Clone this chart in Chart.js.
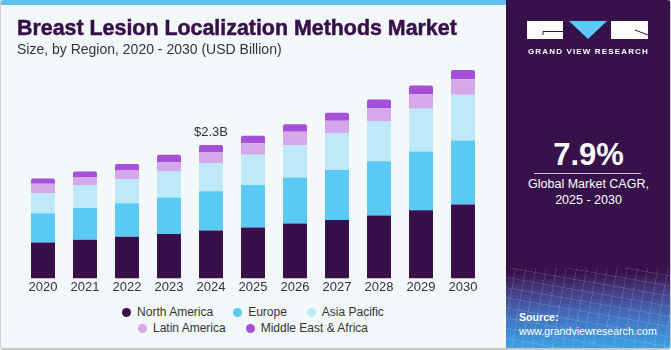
<!DOCTYPE html>
<html>
<head>
<meta charset="utf-8">
<script src="https://cdn.jsdelivr.net/npm/chart.js@4"></script>
<style>
  html, body { margin: 0; padding: 0; }
  body {
    width: 671px; height: 350px; position: relative; overflow: hidden;
    background: #ffffff; font-family: "Liberation Sans", Arial, sans-serif;
  }
  .left-bg {
    position: absolute; left: 0; top: 0; width: 506px; height: 348px;
    background: #f3f8fb;
  }
  .topbar {
    position: absolute; left: 0; top: 0; width: 506px; height: 5px;
    background: #5ac2ee; border-top-left-radius: 4px;
  }
  .frame {
    position: absolute; left: 0; top: 0; width: 671px; height: 350px;
    box-sizing: border-box; border: 1px solid #cfcfcf; border-bottom: 2px solid #c8c8c8;
    border-top: none; border-radius: 0 0 4px 4px; pointer-events: none;
  }
  .title {
    position: absolute; left: 17px; top: 17.6px; white-space: nowrap;
    font-size: 21.4px; line-height: 21.4px; font-weight: bold; color: #37104a;
    -webkit-text-stroke: 0.5px #37104a;
  }
  .subtitle {
    position: absolute; left: 17px; top: 41.5px; white-space: nowrap;
    font-size: 14px; line-height: 14px; color: #333333;
  }
  #chartBox { position: absolute; left: 0; top: 0; width: 506px; height: 300px; }
  .legend {
    position: absolute; left: 103px; top: 304px; width: 300px;
    display: flex; flex-wrap: wrap; justify-content: center; column-gap: 20px;
    font-size: 12px; line-height: 16px; color: #333333;
  }
  .legend .item { display: flex; align-items: center; white-space: nowrap; }
  .legend .dot { width: 9px; height: 9px; border-radius: 50%; margin-right: 6px; }
  .panel {
    position: absolute; left: 506px; top: 0; width: 165px; height: 348px;
    background:
      repeating-linear-gradient(100deg, rgba(255,255,255,0) 0 9px, rgba(255,255,255,0.12) 9px 10px),
      repeating-linear-gradient(10deg, rgba(255,255,255,0) 0 9px, rgba(255,255,255,0.12) 9px 10px),
      linear-gradient(to bottom, #37114a 0, #37114a 272px, #463e84 292px, #4373c2 318px, #3ba2e4 348px);
    background-size: 100% 80px, 100% 80px, 100% 100%;
    background-position: 0 268px, 0 268px, 0 0;
    background-repeat: no-repeat;
    border-top-right-radius: 4px;
  }
  .panel .txt { position: absolute; left: 0; width: 165px; text-align: center; color: #ffffff; white-space: nowrap; }
  .logo { position: absolute; left: 20px; top: 21px; }
  .brand {
    position: absolute; left: 22px; top: 47.5px; font-size: 8px; line-height: 8px;
    font-weight: bold; letter-spacing: 1.15px; color: #ffffff; white-space: nowrap;
  }
  .cagr { top: 139px; font-size: 31px; line-height: 31px; font-weight: bold; }
  .rule { position: absolute; left: 28px; top: 173px; width: 107px; height: 1px; background: #cbc3d3; }
  .desc { font-size: 12.5px; line-height: 15.5px; top: 177px; }
  .source { position: absolute; left: 13px; top: 309.5px; font-size: 10.6px; line-height: 14.5px; color: #ffffff; white-space: nowrap; }
</style>
</head>
<body>
<div class="left-bg"></div>
<div class="topbar"></div>
<div id="chartBox"><canvas id="marketChart" width="506" height="300"></canvas></div>
<div class="title">Breast Lesion Localization Methods Market</div>
<div class="subtitle">Size, by Region, 2020 - 2030 (USD Billion)</div>
<div class="legend" id="legend"></div>

<div class="panel">
  <svg class="logo" width="123" height="19" viewBox="0 0 123 19">
    <rect x="1" y="0" width="36" height="18" fill="#ffffff"/>
    <path d="M17 10.5 H37 M17 10.5 V14" stroke="#37114a" stroke-width="1" fill="none"/>
    <polygon points="43,0 81,0 62,18" fill="#5bc8f5"/>
    <rect x="85" y="0" width="37" height="18" fill="#ffffff"/>
    <path d="M109 9 L122 14" stroke="#37114a" stroke-width="1" fill="none"/>
  </svg>
  <div class="brand">GRAND VIEW RESEARCH</div>
  <div class="txt cagr">7.9%</div>
  <div class="rule"></div>
  <div class="txt desc">Global Market CAGR,<br>2025 - 2030</div>
  <div class="source"><b>Source:</b><br>www.grandviewresearch.com</div>
</div>
<div class="frame"></div>

<script>
const years = ["2020", "2021", "2022", "2023", "2024", "2025", "2026", "2027", "2028", "2029", "2030"];

const northAmerica = [0.62, 0.67, 0.72, 0.77, 0.83, 0.88, 0.95, 1.01, 1.09, 1.18, 1.28];
const europe = [0.51, 0.55, 0.58, 0.63, 0.68, 0.74, 0.80, 0.87, 0.94, 1.02, 1.11];
const asiaPacific = [0.35, 0.39, 0.42, 0.45, 0.49, 0.52, 0.56, 0.64, 0.69, 0.74, 0.79];
const latinAmerica = [0.16, 0.14, 0.15, 0.16, 0.19, 0.20, 0.23, 0.21, 0.23, 0.25, 0.27];
const middleEastAfrica = [0.09, 0.10, 0.11, 0.13, 0.12, 0.13, 0.13, 0.14, 0.15, 0.15, 0.16];

const seriesNames = ["North America", "Europe", "Asia Pacific", "Latin America", "Middle East & Africa"];
const seriesColors = ["#37104a", "#5bc9f5", "#bde9f9", "#d5a8ec", "#a550d8"];

// callout above one bar
const calloutYear = "2024";
const calloutText = "$2.3B";

const seriesData = [northAmerica, europe, asiaPacific, latinAmerica, middleEastAfrica];

const calloutPlugin = {
  id: "callout",
  afterDatasetsDraw(chart) {
    const idx = years.indexOf(calloutYear);
    const meta = chart.getDatasetMeta(chart.data.datasets.length - 1);
    const bar = meta.data[idx];
    if (!bar) return;
    const ctx = chart.ctx;
    ctx.save();
    ctx.font = '13px "Liberation Sans", Arial, sans-serif';
    ctx.fillStyle = "#333333";
    ctx.textAlign = "center";
    ctx.textBaseline = "middle";
    ctx.fillText(calloutText, bar.x, bar.y - 13);
    ctx.restore();
  },
};

const ctx = document.getElementById("marketChart").getContext("2d");
new Chart(ctx, {
  type: "bar",
  data: {
    labels: years,
    datasets: seriesNames.map((name, i) => ({
      label: name,
      data: seriesData[i],
      backgroundColor: seriesColors[i],
      borderWidth: 0,
      borderRadius: 2,
      barPercentage: 0.571,
      categoryPercentage: 1,
    })),
  },
  options: {
    responsive: false,
    animation: false,
    devicePixelRatio: 1,
    layout: {
      padding: { left: 22, right: 22, top: 47.5, bottom: 4 },
    },
    plugins: {
      legend: { display: false },
      tooltip: { enabled: false },
    },
    scales: {
      x: {
        stacked: true,
        grid: { display: false, drawTicks: false },
        border: { display: false },
        ticks: {
          color: "#333333",
          padding: 1,
          font: { family: '"Liberation Sans", Arial, sans-serif', size: 13 },
        },
      },
      y: {
        stacked: true,
        display: false,
        min: 0,
        max: 4,
      },
    },
  },
  plugins: [calloutPlugin],
});

// legend built from the same names and colours
const legendEl = document.getElementById("legend");
seriesNames.forEach((name, i) => {
  const item = document.createElement("div");
  item.className = "item";
  const dot = document.createElement("span");
  dot.className = "dot";
  dot.style.background = seriesColors[i];
  const label = document.createElement("span");
  label.textContent = name;
  item.appendChild(dot);
  item.appendChild(label);
  legendEl.appendChild(item);
});
</script>
</body>
</html>
